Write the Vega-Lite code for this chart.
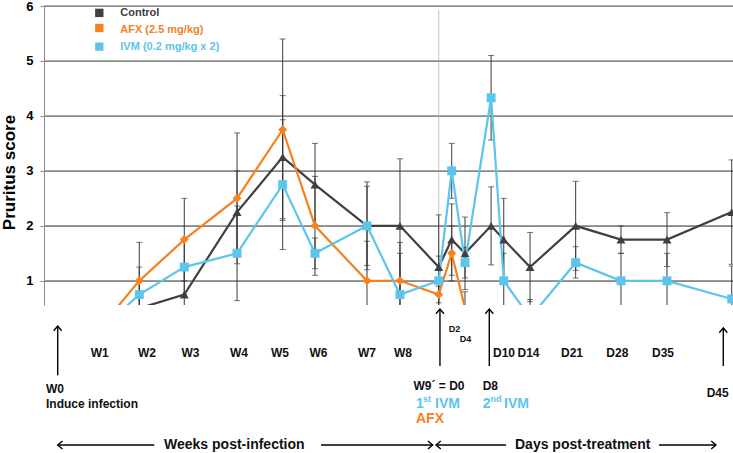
{
  "$schema": "https://vega.github.io/schema/vega-lite/v6.json",
  "padding": {"left": 0, "top": 0, "right": 0, "bottom": 0},
  "bounds": "flush",
  "spacing": 0,
  "config": {
    "view": {"stroke": null},
    "font": "Liberation Sans",
    "axisY": {
      "domainColor": "#8c8c8c", "tickColor": "#8c8c8c", "tickSize": 4,
      "labelFontSize": 13, "labelFontWeight": "bold", "labelColor": "#000000", "labelPadding": 7,
      "titleFontSize": 17, "titleFontWeight": "bold", "titleColor": "#000000"
    }
  },
  "resolve": {"scale": {"x": "independent", "y": "independent", "shape": "independent", "color": "shared"}},
  "datasets": {
    "levels": [
      {"v": 1, "a": 0, "b": 106.3, "mid": 53.15}, {"v": 2, "a": 0, "b": 106.3, "mid": 53.15}, {"v": 3, "a": 0, "b": 106.3, "mid": 53.15},
      {"v": 4, "a": 0, "b": 106.3, "mid": 53.15}, {"v": 5, "a": 0, "b": 106.3, "mid": 53.15}, {"v": 6, "a": 0, "b": 106.3, "mid": 53.15}
    ],
    "main": [
      {"series": "Control", "t": "W1", "day": 7.6, "score": 0.25, "lo": 0, "hi": 0.5},
      {"series": "Control", "t": "W2", "day": 14.68, "score": 0.5, "lo": 0, "hi": 1.0},
      {"series": "Control", "t": "W3", "day": 21.61, "score": 0.75, "lo": 0.25, "hi": 1.25},
      {"series": "Control", "t": "W4", "day": 29.74, "score": 2.25, "lo": 1.5, "hi": 3.0},
      {"series": "Control", "t": "W5", "day": 36.77, "score": 3.25, "lo": 2.13, "hi": 4.37},
      {"series": "Control", "t": "W6", "day": 41.75, "score": 2.75, "lo": 2.0, "hi": 3.5},
      {"series": "Control", "t": "W7", "day": 49.76, "score": 2.0, "lo": 1.2, "hi": 2.8},
      {"series": "Control", "t": "W8", "day": 54.84, "score": 2.0, "lo": 0.78, "hi": 3.22},
      {"series": "Control", "t": "D0", "day": 60.81, "score": 1.25, "lo": 0.3, "hi": 2.2},
      {"series": "Control", "t": "D2", "day": 62.81, "score": 1.75, "lo": 1.1, "hi": 2.4},
      {"series": "Control", "t": "D4", "day": 64.86, "score": 1.5, "lo": 0.84, "hi": 2.16},
      {"series": "Control", "t": "D8", "day": 68.88, "score": 2.0, "lo": 1.29, "hi": 2.71},
      {"series": "Control", "t": "D10", "day": 70.83, "score": 1.75, "lo": 1.0, "hi": 2.5},
      {"series": "Control", "t": "D14", "day": 74.88, "score": 1.25, "lo": 0.62, "hi": 1.88},
      {"series": "Control", "t": "D21", "day": 81.91, "score": 2.0, "lo": 1.19, "hi": 2.81},
      {"series": "Control", "t": "D28", "day": 88.89, "score": 1.75, "lo": 1.5, "hi": 2.0},
      {"series": "Control", "t": "D35", "day": 95.98, "score": 1.75, "lo": 1.26, "hi": 2.24},
      {"series": "Control", "t": "D45", "day": 105.95, "score": 2.25, "lo": 1.3, "hi": 3.2},
      {"series": "AFX (2.5 mg/kg)", "t": "W1", "day": 7.6, "score": 0, "lo": 0, "hi": 0.4},
      {"series": "AFX (2.5 mg/kg)", "t": "W2", "day": 14.68, "score": 1.0, "lo": 0.3, "hi": 1.7},
      {"series": "AFX (2.5 mg/kg)", "t": "W3", "day": 21.61, "score": 1.75, "lo": 1.0, "hi": 2.5},
      {"series": "AFX (2.5 mg/kg)", "t": "W4", "day": 29.74, "score": 2.5, "lo": 1.31, "hi": 3.69},
      {"series": "AFX (2.5 mg/kg)", "t": "W5", "day": 36.77, "score": 3.75, "lo": 2.1, "hi": 5.4},
      {"series": "AFX (2.5 mg/kg)", "t": "W6", "day": 41.75, "score": 2.0, "lo": 1.1, "hi": 2.9},
      {"series": "AFX (2.5 mg/kg)", "t": "W7", "day": 49.76, "score": 1.0, "lo": 0.28, "hi": 1.72},
      {"series": "AFX (2.5 mg/kg)", "t": "W8", "day": 54.84, "score": 1.0, "lo": 0.5, "hi": 1.5},
      {"series": "AFX (2.5 mg/kg)", "t": "D0", "day": 60.81, "score": 0.75, "lo": 0.6, "hi": 0.9},
      {"series": "AFX (2.5 mg/kg)", "t": "D2", "day": 62.81, "score": 1.5, "lo": 1.0, "hi": 2.0},
      {"series": "AFX (2.5 mg/kg)", "t": "D4", "day": 64.86, "score": 0.5, "lo": 0.2, "hi": 0.8},
      {"series": "IVM (0.2 mg/kg x 2)", "t": "W1", "day": 7.6, "score": 0, "lo": 0, "hi": 0.3},
      {"series": "IVM (0.2 mg/kg x 2)", "t": "W2", "day": 14.68, "score": 0.75, "lo": 0.25, "hi": 1.25},
      {"series": "IVM (0.2 mg/kg x 2)", "t": "W3", "day": 21.61, "score": 1.25, "lo": 0.75, "hi": 1.75},
      {"series": "IVM (0.2 mg/kg x 2)", "t": "W4", "day": 29.74, "score": 1.5, "lo": 0.64, "hi": 2.36},
      {"series": "IVM (0.2 mg/kg x 2)", "t": "W5", "day": 36.77, "score": 2.75, "lo": 1.57, "hi": 3.93},
      {"series": "IVM (0.2 mg/kg x 2)", "t": "W6", "day": 41.75, "score": 1.5, "lo": 1.22, "hi": 1.78},
      {"series": "IVM (0.2 mg/kg x 2)", "t": "W7", "day": 49.76, "score": 2.0, "lo": 1.28, "hi": 2.72},
      {"series": "IVM (0.2 mg/kg x 2)", "t": "W8", "day": 54.84, "score": 0.75, "lo": -0.2, "hi": 1.7},
      {"series": "IVM (0.2 mg/kg x 2)", "t": "D0", "day": 60.81, "score": 1.0, "lo": 0.55, "hi": 1.45},
      {"series": "IVM (0.2 mg/kg x 2)", "t": "D2", "day": 62.81, "score": 3.0, "lo": 2.5, "hi": 3.5},
      {"series": "IVM (0.2 mg/kg x 2)", "t": "D4", "day": 64.86, "score": 1.33, "lo": 1.05, "hi": 1.61},
      {"series": "IVM (0.2 mg/kg x 2)", "t": "D8", "day": 68.88, "score": 4.33, "lo": 3.56, "hi": 5.1},
      {"series": "IVM (0.2 mg/kg x 2)", "t": "D10", "day": 70.83, "score": 1.0, "lo": 0.5, "hi": 1.5},
      {"series": "IVM (0.2 mg/kg x 2)", "t": "D14", "day": 74.88, "score": 0.33, "lo": 0, "hi": 0.66},
      {"series": "IVM (0.2 mg/kg x 2)", "t": "D21", "day": 81.91, "score": 1.33, "lo": 1.05, "hi": 1.62},
      {"series": "IVM (0.2 mg/kg x 2)", "t": "D28", "day": 88.89, "score": 1.0, "lo": 0.5, "hi": 1.5},
      {"series": "IVM (0.2 mg/kg x 2)", "t": "D35", "day": 95.98, "score": 1.0, "lo": 0.5, "hi": 1.5},
      {"series": "IVM (0.2 mg/kg x 2)", "t": "D45", "day": 105.95, "score": 0.67, "lo": 0.07, "hi": 1.27}
    ],
    "legend": [
      {"series": "Control", "day": 8.52, "score": 5.875, "tday": 11.75, "tscore": 5.88},
      {"series": "AFX (2.5 mg/kg)", "day": 8.52, "score": 5.6, "tday": 11.75, "tscore": 5.56},
      {"series": "IVM (0.2 mg/kg x 2)", "day": 8.52, "score": 5.26, "tday": 11.75, "tscore": 5.25}
    ],
    "d0": [{"day": 60.81, "top": 5.93, "bottom": 0.56}],
    "shafts": [
      {"x1": 2.11, "r1": 1.41, "x2": 2.11, "r2": 4.72},
      {"x1": 61.0, "r1": 0.27, "x2": 61.0, "r2": 4.09},
      {"x1": 68.6, "r1": 0.27, "x2": 68.6, "r2": 4.09},
      {"x1": 104.65, "r1": 1.54, "x2": 104.65, "r2": 4.09},
      {"x1": 2.11, "r1": 9.4, "x2": 16.99, "r2": 9.4},
      {"x1": 42.67, "r1": 9.4, "x2": 59.88, "r2": 9.4},
      {"x1": 60.39, "r1": 9.4, "x2": 71.17, "r2": 9.4},
      {"x1": 94.75, "r1": 9.4, "x2": 103.53, "r2": 9.4}
    ],
    "heads": [
      {"day": 2.11, "row": 1.41, "dir": "up"},
      {"day": 61.0, "row": 0.27, "dir": "up"},
      {"day": 68.6, "row": 0.27, "dir": "up"},
      {"day": 104.65, "row": 1.54, "dir": "up"},
      {"day": 2.11, "row": 9.4, "dir": "left"},
      {"day": 59.88, "row": 9.4, "dir": "right"},
      {"day": 60.39, "row": 9.4, "dir": "left"},
      {"day": 103.53, "row": 9.4, "dir": "right"}
    ],
    "labelsCenter": [
      {"label": "W1", "day": 8.58, "row": 3.22},
      {"label": "W2", "day": 15.87, "row": 3.22},
      {"label": "W3", "day": 22.57, "row": 3.22},
      {"label": "W4", "day": 30.04, "row": 3.22},
      {"label": "W5", "day": 36.36, "row": 3.22},
      {"label": "W6", "day": 42.29, "row": 3.22},
      {"label": "W7", "day": 49.76, "row": 3.22},
      {"label": "W8", "day": 55.31, "row": 3.22},
      {"label": "D10", "day": 70.87, "row": 3.22},
      {"label": "D14", "day": 74.64, "row": 3.22},
      {"label": "D21", "day": 81.34, "row": 3.22},
      {"label": "D28", "day": 88.32, "row": 3.22},
      {"label": "D35", "day": 95.36, "row": 3.22},
      {"label": "W9´ = D0", "day": 60.85, "row": 5.45},
      {"label": "D45", "day": 103.79, "row": 5.91}
    ],
    "labelsLeft": [
      {"label": "W0", "day": 0.31, "row": 5.66},
      {"label": "Induce infection", "day": 0.31, "row": 6.66},
      {"label": "D8", "day": 67.58, "row": 5.45}
    ],
    "labelsSmall": [
      {"label": "D2", "day": 63.24, "row": 1.61},
      {"label": "D4", "day": 64.94, "row": 2.28}
    ],
    "labelsTreat": [
      {"label": "1", "day": 57.31, "row": 6.62, "series": "IVM (0.2 mg/kg x 2)"},
      {"label": "IVM", "day": 60.24, "row": 6.62, "series": "IVM (0.2 mg/kg x 2)"},
      {"label": "AFX", "day": 57.31, "row": 7.62, "series": "AFX (2.5 mg/kg)"},
      {"label": "2", "day": 67.58, "row": 6.62, "series": "IVM (0.2 mg/kg x 2)"},
      {"label": "IVM", "day": 70.87, "row": 6.62, "series": "IVM (0.2 mg/kg x 2)"}
    ],
    "labelsSup": [
      {"label": "st", "day": 58.39, "row": 6.32, "series": "IVM (0.2 mg/kg x 2)"},
      {"label": "nd", "day": 68.79, "row": 6.32, "series": "IVM (0.2 mg/kg x 2)"}
    ],
    "sections": [
      {"label": "Weeks post-infection", "day": 29.32, "row": 9.4},
      {"label": "Days post-treatment", "day": 82.99, "row": 9.4}
    ]
  },
  "vconcat": [
    {
      "width": 690,
      "height": 299,
      "layer": [
        {
          "data": {"name": "d0"},
          "mark": {"type": "rule", "color": "#c4c4c4", "strokeWidth": 1},
          "encoding": {
            "x": {"field": "day", "type": "quantitative", "scale": {"domain": [0, 106.3], "nice": false, "zero": false}, "axis": null},
            "y": {"field": "top", "type": "quantitative", "scale": {"domain": [0.56, 6], "nice": false, "zero": false}, "axis": {"values": [1, 2, 3, 4, 5, 6], "grid": true, "gridColor": "#8a8a8a", "gridWidth": 1, "title": "Pruritus score", "titleX": -35, "titleY": 166, "titleAngle": 270, "titleAlign": "center", "titleBaseline": "middle"}},
            "y2": {"field": "bottom"}
          }
        },
        {
          "data": {"name": "levels"},
          "mark": {"type": "tick", "color": "#8a8a8a", "orient": "horizontal", "size": 690, "thickness": 1},
          "encoding": {
            "x": {"field": "mid", "type": "quantitative", "scale": {"domain": [0, 106.3], "nice": false, "zero": false}, "axis": null},
            "y": {"field": "v", "type": "quantitative", "scale": {"domain": [0.56, 6], "nice": false, "zero": false}, "axis": {"values": [1, 2, 3, 4, 5, 6], "grid": true, "gridColor": "#8a8a8a", "gridWidth": 1, "title": "Pruritus score", "titleX": -35, "titleY": 166, "titleAngle": 270, "titleAlign": "center", "titleBaseline": "middle"}}
          }
        },
        {
          "data": {"name": "levels"},
          "mark": {"type": "rule", "color": "#8a8a8a", "strokeWidth": 1},
          "encoding": {
            "x": {"field": "a", "type": "quantitative", "scale": {"domain": [0, 106.3], "nice": false, "zero": false}, "axis": null},
            "x2": {"field": "b"},
            "y": {"field": "v", "type": "quantitative", "scale": {"domain": [0.56, 6], "nice": false, "zero": false}, "axis": {"values": [1, 2, 3, 4, 5, 6], "grid": true, "gridColor": "#8a8a8a", "gridWidth": 1, "title": "Pruritus score", "titleX": -35, "titleY": 166, "titleAngle": 270, "titleAlign": "center", "titleBaseline": "middle"}},
            "y2": {"field": "v"}
          }
        },
        {
          "data": {"name": "main"},
          "mark": {"type": "rule", "color": "#3a3a3a", "strokeWidth": 1, "clip": true},
          "encoding": {
            "x": {"field": "day", "type": "quantitative", "scale": {"domain": [0, 106.3], "nice": false, "zero": false}, "axis": null},
            "y": {"field": "lo", "type": "quantitative", "scale": {"domain": [0.56, 6], "nice": false, "zero": false}, "axis": {"values": [1, 2, 3, 4, 5, 6], "grid": true, "gridColor": "#8a8a8a", "gridWidth": 1, "title": "Pruritus score", "titleX": -35, "titleY": 166, "titleAngle": 270, "titleAlign": "center", "titleBaseline": "middle"}},
            "y2": {"field": "hi"}
          }
        },
        {
          "data": {"name": "main"},
          "mark": {"type": "tick", "color": "#3a3a3a", "orient": "horizontal", "size": 6, "thickness": 1, "clip": true},
          "encoding": {
            "x": {"field": "day", "type": "quantitative", "scale": {"domain": [0, 106.3], "nice": false, "zero": false}, "axis": null},
            "y": {"field": "hi", "type": "quantitative", "scale": {"domain": [0.56, 6], "nice": false, "zero": false}, "axis": {"values": [1, 2, 3, 4, 5, 6], "grid": true, "gridColor": "#8a8a8a", "gridWidth": 1, "title": "Pruritus score", "titleX": -35, "titleY": 166, "titleAngle": 270, "titleAlign": "center", "titleBaseline": "middle"}}
          }
        },
        {
          "data": {"name": "main"},
          "mark": {"type": "tick", "color": "#3a3a3a", "orient": "horizontal", "size": 6, "thickness": 1, "clip": true},
          "encoding": {
            "x": {"field": "day", "type": "quantitative", "scale": {"domain": [0, 106.3], "nice": false, "zero": false}, "axis": null},
            "y": {"field": "lo", "type": "quantitative", "scale": {"domain": [0.56, 6], "nice": false, "zero": false}, "axis": {"values": [1, 2, 3, 4, 5, 6], "grid": true, "gridColor": "#8a8a8a", "gridWidth": 1, "title": "Pruritus score", "titleX": -35, "titleY": 166, "titleAngle": 270, "titleAlign": "center", "titleBaseline": "middle"}}
          }
        },
        {
          "data": {"name": "main"},
          "mark": {"type": "line", "strokeWidth": 2.2, "clip": true},
          "encoding": {
            "x": {"field": "day", "type": "quantitative", "scale": {"domain": [0, 106.3], "nice": false, "zero": false}, "axis": null},
            "y": {"field": "score", "type": "quantitative", "scale": {"domain": [0.56, 6], "nice": false, "zero": false}, "axis": {"values": [1, 2, 3, 4, 5, 6], "grid": true, "gridColor": "#8a8a8a", "gridWidth": 1, "title": "Pruritus score", "titleX": -35, "titleY": 166, "titleAngle": 270, "titleAlign": "center", "titleBaseline": "middle"}},
            "color": {"field": "series", "type": "nominal", "scale": {"domain": ["Control", "AFX (2.5 mg/kg)", "IVM (0.2 mg/kg x 2)"], "range": ["#404040", "#F5821F", "#5BC5EC"]}, "legend": null},
            "detail": {"field": "series"}
          }
        },
        {
          "data": {"name": "main"},
          "mark": {"type": "point", "filled": true, "opacity": 1, "clip": true},
          "encoding": {
            "x": {"field": "day", "type": "quantitative", "scale": {"domain": [0, 106.3], "nice": false, "zero": false}, "axis": null},
            "y": {"field": "score", "type": "quantitative", "scale": {"domain": [0.56, 6], "nice": false, "zero": false}, "axis": {"values": [1, 2, 3, 4, 5, 6], "grid": true, "gridColor": "#8a8a8a", "gridWidth": 1, "title": "Pruritus score", "titleX": -35, "titleY": 166, "titleAngle": 270, "titleAlign": "center", "titleBaseline": "middle"}},
            "color": {"field": "series", "type": "nominal", "scale": {"domain": ["Control", "AFX (2.5 mg/kg)", "IVM (0.2 mg/kg x 2)"], "range": ["#404040", "#F5821F", "#5BC5EC"]}, "legend": null},
            "shape": {"field": "series", "type": "nominal", "scale": {"domain": ["Control", "AFX (2.5 mg/kg)", "IVM (0.2 mg/kg x 2)"], "range": ["triangle-up", "diamond", "square"]}, "legend": null},
            "size": {"field": "series", "type": "nominal", "scale": {"domain": ["Control", "AFX (2.5 mg/kg)", "IVM (0.2 mg/kg x 2)"], "range": [80, 80, 64]}, "legend": null}
          }
        },
        {
          "data": {"name": "legend"},
          "mark": {"type": "point", "filled": true, "opacity": 1, "shape": "square", "size": 70},
          "encoding": {
            "x": {"field": "day", "type": "quantitative", "scale": {"domain": [0, 106.3], "nice": false, "zero": false}, "axis": null},
            "y": {"field": "score", "type": "quantitative", "scale": {"domain": [0.56, 6], "nice": false, "zero": false}, "axis": {"values": [1, 2, 3, 4, 5, 6], "grid": true, "gridColor": "#8a8a8a", "gridWidth": 1, "title": "Pruritus score", "titleX": -35, "titleY": 166, "titleAngle": 270, "titleAlign": "center", "titleBaseline": "middle"}},
            "color": {"field": "series", "type": "nominal", "legend": null}
          }
        },
        {
          "data": {"name": "legend"},
          "mark": {"type": "text", "align": "left", "baseline": "middle", "fontSize": 11, "fontWeight": "bold"},
          "encoding": {
            "x": {"field": "tday", "type": "quantitative", "scale": {"domain": [0, 106.3], "nice": false, "zero": false}, "axis": null},
            "y": {"field": "tscore", "type": "quantitative", "scale": {"domain": [0.56, 6], "nice": false, "zero": false}, "axis": {"values": [1, 2, 3, 4, 5, 6], "grid": true, "gridColor": "#8a8a8a", "gridWidth": 1, "title": "Pruritus score", "titleX": -35, "titleY": 166, "titleAngle": 270, "titleAlign": "center", "titleBaseline": "middle"}},
            "text": {"field": "series"},
            "color": {"field": "series", "type": "nominal", "legend": null}
          }
        }
      ]
    },
    {
      "width": 690,
      "height": 149,
      "encoding": {
        "x": {"field": "day", "type": "quantitative", "scale": {"domain": [0, 106.3], "nice": false, "zero": false}, "axis": null},
        "y": {"field": "row", "type": "quantitative", "scale": {"domain": [0, 10], "nice": false, "zero": false, "reverse": true}, "axis": null}
      },
      "layer": [
        {
          "data": {"name": "shafts"},
          "mark": {"type": "rule", "color": "#000000", "strokeWidth": 1.4},
          "encoding": {
            "x": {"field": "x1", "type": "quantitative", "scale": {"domain": [0, 106.3], "nice": false, "zero": false}, "axis": null},
            "x2": {"field": "x2"},
            "y": {"field": "r1", "type": "quantitative", "scale": {"domain": [0, 10], "nice": false, "zero": false, "reverse": true}, "axis": null},
            "y2": {"field": "r2"}
          }
        },
        {
          "data": {"name": "heads"},
          "mark": {"type": "point", "filled": false, "stroke": "#000000", "strokeWidth": 1.4, "opacity": 1, "size": 64},
          "encoding": {
            "shape": {"field": "dir", "type": "nominal", "scale": {"domain": ["up", "left", "right"], "range": ["M-1,1.2L0,0L1,1.2", "M1.2,-1L0,0L1.2,1", "M-1.2,-1L0,0L-1.2,1"]}, "legend": null}
          }
        },
        {
          "data": {"name": "labelsCenter"},
          "mark": {"type": "text", "align": "center", "baseline": "middle", "fontSize": 12, "fontWeight": "bold", "color": "#111111"},
          "encoding": {"text": {"field": "label"}}
        },
        {
          "data": {"name": "labelsLeft"},
          "mark": {"type": "text", "align": "left", "baseline": "middle", "fontSize": 12, "fontWeight": "bold", "color": "#111111"},
          "encoding": {"text": {"field": "label"}}
        },
        {
          "data": {"name": "labelsSmall"},
          "mark": {"type": "text", "align": "center", "baseline": "middle", "fontSize": 9, "fontWeight": "bold", "color": "#111111"},
          "encoding": {"text": {"field": "label"}}
        },
        {
          "data": {"name": "labelsTreat"},
          "mark": {"type": "text", "align": "left", "baseline": "middle", "fontSize": 14, "fontWeight": "bold"},
          "encoding": {
            "text": {"field": "label"},
            "color": {"field": "series", "type": "nominal", "legend": null}
          }
        },
        {
          "data": {"name": "labelsSup"},
          "mark": {"type": "text", "align": "left", "baseline": "middle", "fontSize": 9, "fontWeight": "bold"},
          "encoding": {
            "text": {"field": "label"},
            "color": {"field": "series", "type": "nominal", "legend": null}
          }
        },
        {
          "data": {"name": "sections"},
          "mark": {"type": "text", "align": "center", "baseline": "middle", "fontSize": 14, "fontWeight": "bold", "color": "#111111"},
          "encoding": {"text": {"field": "label"}}
        }
      ]
    }
  ]
}
